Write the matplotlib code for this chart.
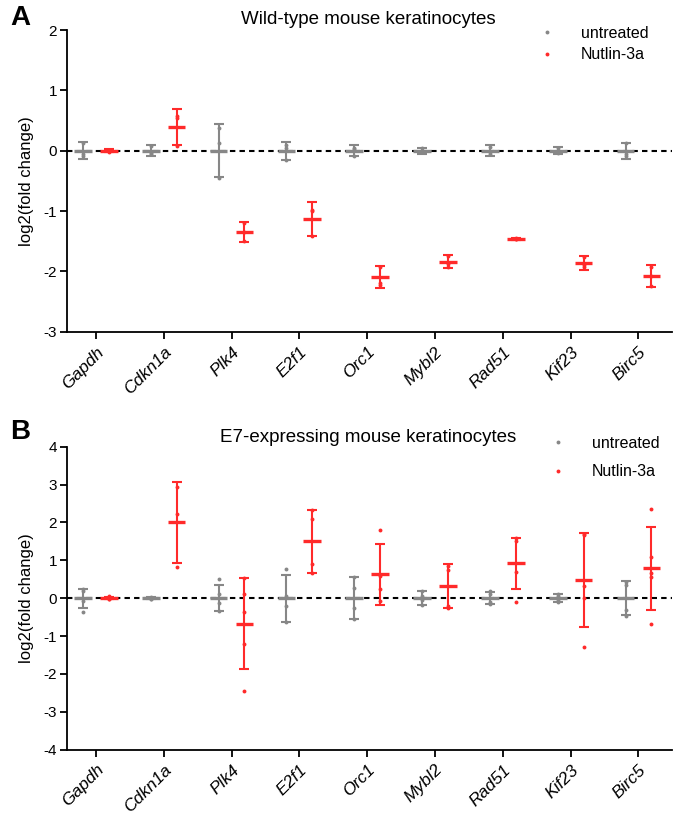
import numpy as np
import matplotlib
matplotlib.use("Agg")
import matplotlib.pyplot as plt
from matplotlib.lines import Line2D

plt.rcParams['font.family'] = ['Liberation Sans', 'DejaVu Sans']

genes = ["Gapdh", "Cdkn1a", "Plk4", "E2f1", "Orc1", "Mybl2", "Rad51", "Kif23", "Birc5"]

# Panel A: wild-type keratinocytes (points, mean, SD)
a_untr_pts = [[0.12, -0.05, -0.09], [0.08, -0.04, -0.06], [0.38, 0.12, -0.45],
              [0.10, 0.05, -0.15], [0.05, 0.03, -0.08], [0.04, -0.01, -0.03],
              [0.06, -0.02, -0.05], [0.04, -0.01, -0.04], [0.12, -0.05, -0.09]]
a_untr_mean = [0, 0, 0, 0, 0, 0, 0, 0, 0]
a_untr_sd = [0.14, 0.09, 0.44, 0.15, 0.09, 0.05, 0.09, 0.06, 0.13]
a_nut_pts = [[0.01, -0.01, -0.02], [0.57, 0.54, 0.07], [-1.20, -1.35, -1.50],
             [-0.98, -1.00, -1.41], [-1.92, -2.20, -2.23], [-1.75, -1.87, -1.92],
             [-1.45, -1.46, -1.47], [-1.76, -1.90, -1.93], [-1.92, -2.08, -2.25]]
a_nut_mean = [0.0, 0.39, -1.35, -1.13, -2.09, -1.84, -1.46, -1.86, -2.08]
a_nut_sd = [0.02, 0.30, 0.17, 0.28, 0.18, 0.11, 0.02, 0.11, 0.18]

# Panel B: E7-expressing keratinocytes
b_untr_pts = [[0.24, 0.20, -0.07, -0.36], [0.03, 0.0, -0.02, -0.01], [0.50, 0.12, -0.12, -0.34],
              [0.78, 0.05, -0.20, -0.63], [0.55, 0.28, -0.27, -0.56], [0.18, 0.06, -0.06, -0.18],
              [0.18, 0.10, -0.10, -0.15], [0.12, 0.05, -0.05, -0.10], [0.42, 0.36, -0.32, -0.46]]
b_untr_mean = [0, 0, 0, 0, 0, 0, 0, 0, 0]
b_untr_sd = [0.25, 0.02, 0.35, 0.62, 0.55, 0.19, 0.16, 0.10, 0.45]
b_nut_pts = [[0.05, 0.0, -0.03, -0.02], [2.93, 2.22, 0.81], [0.53, 0.11, -0.36, -1.21, -2.44],
             [2.34, 2.09, 0.91, 0.66], [1.79, 0.59, 0.25, -0.07], [0.86, 0.75, -0.22, -0.26],
             [1.58, 1.50, 0.70, -0.09], [1.70, 1.67, 0.33, 0.0, -1.28], [2.35, 1.10, 0.66, 0.55, -0.69]]
b_nut_mean = [0.0, 2.0, -0.67, 1.5, 0.63, 0.31, 0.92, 0.48, 0.79]
b_nut_sd = [0.03, 1.06, 1.20, 0.84, 0.80, 0.58, 0.68, 1.24, 1.09]

a_yticks = [-3, -2, -1, 0, 1, 2]
b_yticks = [-4, -3, -2, -1, 0, 1, 2, 3, 4]

GRAY = '#878787'
RED = '#ff2a2a'
W, H = 675, 814
fig = plt.figure(figsize=(W / 100, H / 100), dpi=100)


def px_axes(left, top, right, bottom):
    return fig.add_axes([left / W, 1 - bottom / H, (right - left) / W, (bottom - top) / H])


def draw_panel(ax, untr_pts, untr_mean, untr_sd, nut_pts, nut_mean, nut_sd, yticks,
               leg_anchor, leg_spacing):
    x = np.arange(len(genes))
    off = 0.19
    ax.axhline(0, color='black', lw=1.5, ls=(0, (2.6, 2.0)), zorder=1)
    for xs, pts, mean, sd, col in [(x - off, untr_pts, untr_mean, untr_sd, GRAY),
                                   (x + off, nut_pts, nut_mean, nut_sd, RED)]:
        for xi, p, m, s in zip(xs, pts, mean, sd):
            ax.plot([xi] * len(p), p, 'o', ms=2.8, color=col, mec='none', zorder=3)
            ax.errorbar([xi], [m], yerr=[s], fmt='none', ecolor=col, elinewidth=1.5,
                        capsize=3.4, capthick=1.5, zorder=2)
            ax.plot([xi - 0.13, xi + 0.13], [m, m], color=col, lw=2.4, zorder=2,
                    solid_capstyle='butt')
    ax.set_xlim(-0.43, len(genes) - 1 + 0.49)
    ax.set_ylim(yticks[0], yticks[-1])
    ax.set_yticks(yticks)
    ax.set_yticklabels([str(t) for t in yticks], fontsize=11)
    ax.set_xticks(x)
    ax.set_xticklabels(genes, rotation=45, ha='right', rotation_mode='anchor',
                       fontsize=12.5, fontstyle='italic')
    for s in ['top', 'right']:
        ax.spines[s].set_visible(False)
    for s in ['left', 'bottom']:
        ax.spines[s].set_linewidth(1.3)
    ax.tick_params(axis='y', direction='out', length=5, width=1.3, pad=2)
    ax.tick_params(axis='x', direction='out', length=5, width=1.3, pad=4)
    ax.set_ylabel('log2(fold change)', fontsize=12, labelpad=7)
    handles = [Line2D([], [], ls='none', marker='o', ms=2.8, color=GRAY, mec='none'),
               Line2D([], [], ls='none', marker='o', ms=2.8, color=RED, mec='none')]
    ax.legend(handles, ['untreated', 'Nutlin-3a'], loc='upper left', bbox_to_anchor=leg_anchor,
              bbox_transform=fig.transFigure, frameon=False, fontsize=11.5,
              handlelength=1.0, handletextpad=1.6, labelspacing=leg_spacing, borderpad=0,
              borderaxespad=0)


axA = px_axes(66.7, 30, 671.7, 331.7)
draw_panel(axA, a_untr_pts, a_untr_mean, a_untr_sd, a_nut_pts, a_nut_mean, a_nut_sd,
           a_yticks, (539 / W, 1 - 26 / H), 0.4)

axB = px_axes(66.7, 446.7, 671.7, 749.6)
draw_panel(axB, b_untr_pts, b_untr_mean, b_untr_sd, b_nut_pts, b_nut_mean, b_nut_sd,
           b_yticks, (550 / W, 1 - 436 / H), 0.82)

fig.text(368 / W, 1 - 19 / H, 'Wild-type mouse keratinocytes', fontsize=13.5, ha='center', va='center')
fig.text(368 / W, 1 - 437 / H, 'E7-expressing mouse keratinocytes', fontsize=13.5, ha='center', va='center')

fig.text(10 / W, 1 - 18 / H, 'A', fontsize=20, fontweight='bold', ha='left', va='center')
fig.text(10 / W, 1 - 432 / H, 'B', fontsize=20, fontweight='bold', ha='left', va='center')

fig.savefig('out.png', dpi=100)
